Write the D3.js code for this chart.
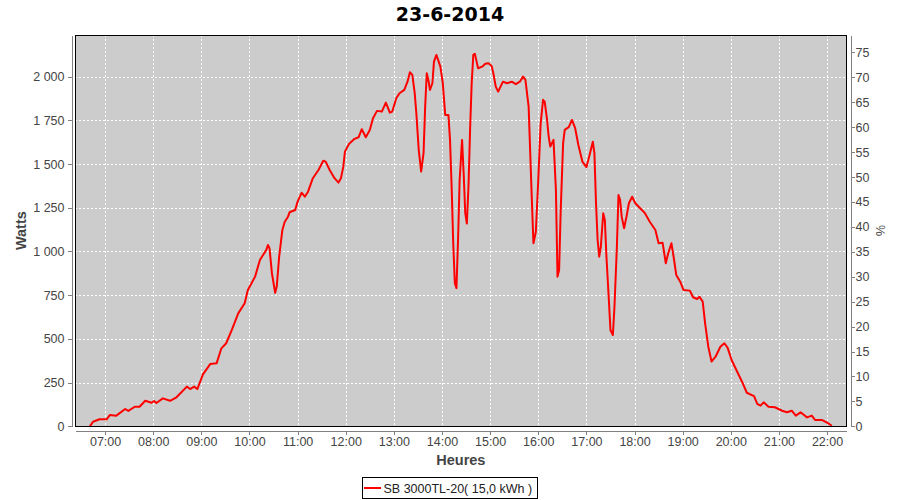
<!DOCTYPE html>
<html>
<head>
<meta charset="utf-8">
<script src="https://cdn.jsdelivr.net/npm/d3@7"></script>
<style>
  html, body { margin: 0; padding: 0; background: #fff; }
  svg { display: block; }
  text { font-family: "Liberation Sans", Arial, sans-serif; }
</style>
</head>
<body>
<svg id="chart" width="900" height="500"></svg>
<script>
// ---- data ----
const chartTitle = "23-6-2014";
const seriesName = "SB 3000TL-20( 15,0 kWh )";
const yLabel = "Watts";
const xLabel = "Heures";
const y2Label = "%";
const hourLabels = ["07:00","08:00","09:00","10:00","11:00","12:00","13:00","14:00","15:00","16:00","17:00","18:00","19:00","20:00","21:00","22:00"];
const wattTicks = [0,250,500,750,1000,1250,1500,1750,2000];
const pctTicks = [0,5,10,15,20,25,30,35,40,45,50,55,60,65,70,75];
// time in minutes since midnight
const timeMin = [401,405,413,422,426,434,445,449,457,463,470,478,481,484,492,501,509,522,526,531,535,542,551,559,565,571,578,586,594,598,607,613,621,623,625,628,632,634,637,641,644,648,650,657,660,665,669,673,679,686,692,695,700,706,711,714,717,719,724,731,736,740,745,750,754,759,765,770,775,778,783,787,793,797,800,803,806,808,811,814,817,819,821,823,825,828,830,833,838,841,844,848,850,852,854,856,858,860,862,865,867,869,871,873,875,877,879,881,885,890,894,898,902,904,907,910,916,921,927,932,937,941,944,948,950,952,954,957,960,963,966,968,971,973,975,979,982,984,986,988,991,993,998,1002,1006,1010,1015,1020,1024,1028,1030,1032,1034,1036,1038,1041,1043,1045,1048,1050,1053,1055,1058,1060,1062,1064,1067,1070,1073,1077,1081,1087,1093,1099,1106,1110,1115,1119,1122,1126,1129,1132,1137,1141,1149,1153,1158,1161,1165,1168,1172,1176,1181,1187,1192,1196,1201,1208,1214,1220,1229,1233,1237,1241,1247,1255,1264,1270,1276,1281,1287,1295,1301,1305,1314,1320,1326];
const watts = [0,26,40,40,65,61,99,88,112,112,146,135,145,133,160,146,166,227,213,227,213,297,356,360,446,475,551,646,704,780,856,951,1009,1037,1018,875,764,799,970,1123,1170,1199,1224,1237,1285,1336,1313,1342,1419,1466,1519,1514,1466,1419,1394,1419,1485,1571,1615,1644,1653,1699,1653,1695,1762,1804,1800,1851,1794,1800,1876,1905,1924,1971,2025,2010,1905,1791,1581,1457,1562,1828,2019,1981,1924,1962,2086,2124,2057,1962,1781,1781,1638,1371,1047,818,790,1066,1409,1638,1447,1219,1160,1371,1695,1962,2124,2130,2048,2057,2073,2077,2060,2019,1943,1914,1971,1962,1971,1957,1971,2000,1981,1828,1562,1295,1047,1113,1409,1733,1867,1857,1752,1657,1600,1638,1352,856,894,1238,1620,1695,1711,1752,1705,1609,1514,1482,1552,1628,1562,1276,1066,970,1027,1219,1180,970,723,551,522,684,1027,1323,1295,1199,1133,1199,1276,1313,1276,1247,1219,1170,1123,1047,1050,932,990,1047,961,866,827,780,776,738,728,741,713,589,455,370,398,455,475,450,379,312,255,192,173,128,118,137,112,109,89,80,89,61,80,51,61,36,36,21,3];

// ---- layout ----
const plot = { left: 75, top: 35, right: 846.7, bottom: 426.3 };
const svg = d3.select("#chart");

const parseHM = s => { const [h, m] = s.split(":").map(Number); return h * 60 + m; };
const x = d3.scaleLinear().domain([382.5, 1344.5]).range([plot.left, plot.right]);
const y = d3.scaleLinear().domain([0, 2238]).range([plot.bottom, plot.top]);
const y2 = d3.scaleLinear().domain([0, 78.5]).range([plot.bottom, plot.top]);

const fr = d3.formatLocale({ decimal: ",", thousands: " ", grouping: [3], currency: ["", ""] });
const fmtW = fr.format(",");

// background
svg.append("rect")
  .attr("x", plot.left).attr("y", plot.top)
  .attr("width", plot.right - plot.left).attr("height", plot.bottom - plot.top)
  .attr("fill", "#cccccc");

// grid
const grid = svg.append("g").attr("stroke", "#ffffff").attr("stroke-width", 1)
  .attr("stroke-dasharray", "2,2").attr("shape-rendering", "crispEdges");
grid.selectAll("line.v").data(hourLabels).join("line")
  .attr("x1", d => Math.round(x(parseHM(d))) + 0.5).attr("x2", d => Math.round(x(parseHM(d))) + 0.5)
  .attr("y1", plot.top).attr("y2", plot.bottom);
grid.selectAll("line.h").data(wattTicks.filter(d => d > 0)).join("line")
  .attr("y1", d => Math.round(y(d)) + 0.5).attr("y2", d => Math.round(y(d)) + 0.5)
  .attr("x1", plot.left).attr("x2", plot.right);

// line
const line = d3.line().x((d, i) => x(timeMin[i])).y(d => y(d));
svg.append("path").datum(watts)
  .attr("d", line)
  .attr("fill", "none").attr("stroke", "#ff0000").attr("stroke-width", 2)
  .attr("stroke-linejoin", "round");

// plot border
svg.append("rect")
  .attr("x", plot.left + 0.5).attr("y", plot.top + 0.5)
  .attr("width", plot.right - plot.left - 1).attr("height", plot.bottom - plot.top)
  .attr("fill", "none").attr("stroke", "#000").attr("stroke-width", 1)
  .attr("shape-rendering", "crispEdges");

// axes
function styleAxis(g) {
  g.selectAll(".domain").attr("stroke", "#808080");
  g.selectAll(".tick line").attr("stroke", "#808080");
  g.selectAll(".tick text").attr("fill", "#444").attr("font-size", "12.5px")
    .style("font-family", "'Liberation Sans', Arial, sans-serif");
  g.attr("shape-rendering", "crispEdges");
}
const xAxis = d3.axisBottom(x).tickValues(hourLabels.map(parseHM))
  .tickFormat((d, i) => hourLabels[i]).tickSize(4).tickSizeOuter(0).tickPadding(3);
svg.append("g").attr("transform", `translate(0,430.5)`).call(xAxis).call(styleAxis);

const yAxis = d3.axisLeft(y).tickValues(wattTicks).tickFormat(fmtW)
  .tickSize(4).tickSizeOuter(0).tickPadding(3);
svg.append("g").attr("transform", `translate(71.5,0)`).call(yAxis).call(styleAxis);

const y2Axis = d3.axisRight(y2).tickValues(pctTicks).tickFormat(d => d)
  .tickSize(4).tickSizeOuter(0).tickPadding(1);
svg.append("g").attr("transform", `translate(850.5,0)`).call(y2Axis).call(styleAxis);

// axis labels
svg.append("text").text(xLabel)
  .attr("x", (plot.left + plot.right) / 2).attr("y", 465)
  .attr("text-anchor", "middle").attr("font-weight", "bold").attr("font-size", "14.5px").attr("fill", "#444");
svg.append("text").text(yLabel)
  .attr("transform", `translate(26,${(plot.top + plot.bottom) / 2}) rotate(-90)`)
  .attr("text-anchor", "middle").attr("font-weight", "bold").attr("font-size", "14.5px").attr("fill", "#444");
svg.append("text").text(y2Label)
  .attr("transform", `translate(876,${(plot.top + plot.bottom) / 2}) rotate(90)`)
  .attr("text-anchor", "middle").attr("font-size", "12.5px").attr("fill", "#444");

// title
svg.append("text").text(chartTitle)
  .attr("x", 450).attr("y", 21)
  .attr("text-anchor", "middle").attr("font-weight", "bold").attr("font-size", "19px")
  .style("font-family", "'DejaVu Sans', sans-serif").attr("fill", "#000");

// legend
const lg = svg.append("g");
lg.append("rect").attr("x", 362.5).attr("y", 477.5).attr("width", 175).attr("height", 21)
  .attr("fill", "#fff").attr("stroke", "#000").attr("shape-rendering", "crispEdges");
lg.append("line").attr("x1", 364).attr("x2", 381).attr("y1", 488).attr("y2", 488)
  .attr("stroke", "#ff0000").attr("stroke-width", 2);
lg.append("text").text(seriesName).attr("x", 383.5).attr("y", 492.5)
  .attr("font-size", "12.5px").attr("fill", "#222");
</script>
</body>
</html>
